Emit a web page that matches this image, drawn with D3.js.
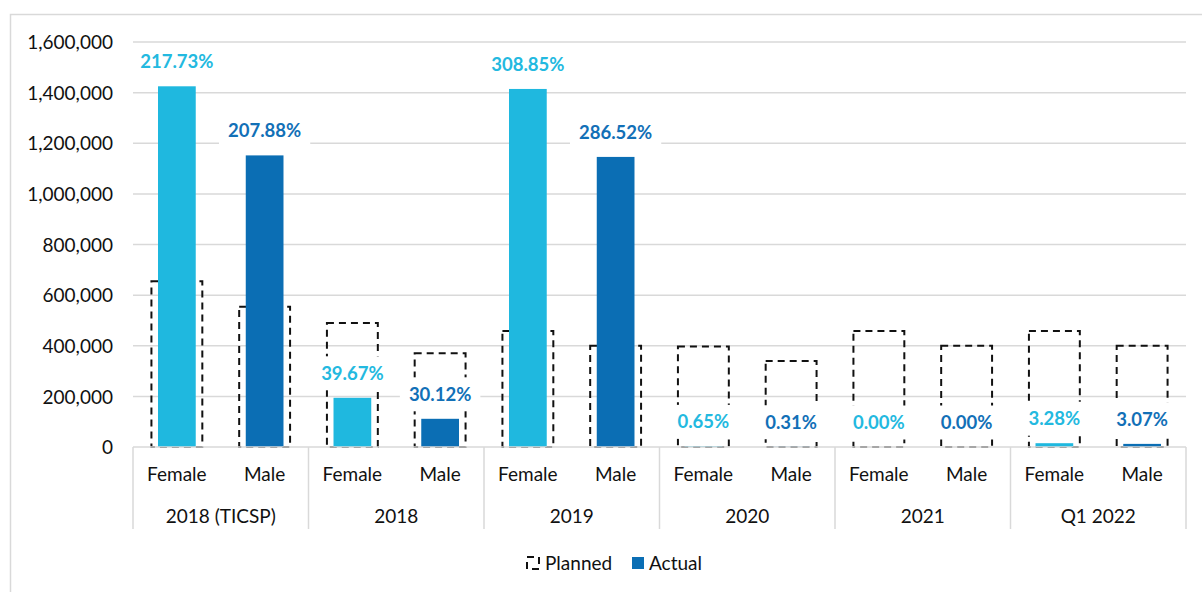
<!DOCTYPE html>
<html>
<head>
<meta charset="utf-8">
<script src="https://cdn.jsdelivr.net/npm/d3@7"></script>
<style>
  html, body { margin: 0; padding: 0; background: #fff; }
  svg { display: block; font-family: Lato, "Open Sans", sans-serif; }
</style>
</head>
<body>
<svg id="chart" width="1202" height="592"></svg>
<script>
const groups = ["2018 (TICSP)", "2018", "2019", "2020", "2021", "Q1 2022"];
const genders = ["Female", "Male"];
const plannedFemale = [654500, 490000, 458000, 397000, 458000, 458000];
const plannedMale   = [554200, 370000, 400000, 340000, 400000, 400000];
const actualFemale  = [1425000, 194400, 1414500, 2580, 0, 15000];
const actualMale    = [1152000, 111400, 1146000, 1050, 0, 12300];
const pctFemale = ["217.73%", "39.67%", "308.85%", "0.65%", "0.00%", "3.28%"];
const pctMale   = ["207.88%", "30.12%", "286.52%", "0.31%", "0.00%", "3.07%"];
const yTicks = [0, 200000, 400000, 600000, 800000, 1000000, 1200000, 1400000, 1600000];

const colors = { Female: "#1FB8DF", Male: "#0B6EB4" };
const labelColors = { Female: "#23B9E0", Male: "#1270B7" };

const rows = [];
groups.forEach((g, i) => {
  rows.push({ group: g, gender: "Female", key: g + "|Female", planned: plannedFemale[i], actual: actualFemale[i], pct: pctFemale[i] });
  rows.push({ group: g, gender: "Male", key: g + "|Male", planned: plannedMale[i], actual: actualMale[i], pct: pctMale[i] });
});

const svg = d3.select("#chart");
const plotLeft = 133, plotRight = 1186, plotTop = 42, plotBottom = 447;

// outer border
svg.append("rect").attr("x", 10.5).attr("y", 14.5).attr("width", 1200).attr("height", 600)
  .attr("fill", "none").attr("stroke", "#d9d9d9").attr("stroke-width", 1.5);

const x = d3.scaleBand().domain(rows.map(d => d.key)).range([plotLeft, plotRight]).paddingInner(0).paddingOuter(0);
const xg = d3.scaleBand().domain(groups).range([plotLeft, plotRight]);
const y = d3.scaleLinear().domain([0, 1600000]).range([plotBottom, plotTop]);

// gridlines
svg.append("g").selectAll("line").data(yTicks.filter(t => t > 0)).join("line")
  .attr("x1", plotLeft).attr("x2", plotRight)
  .attr("y1", d => y(d)).attr("y2", d => y(d))
  .attr("stroke", "#d9d9d9").attr("stroke-width", 1.5);

// y axis labels
const yAxis = d3.axisLeft(y).tickValues(yTicks).tickFormat(d3.format(",")).tickSize(0).tickPadding(0);
const ya = svg.append("g").attr("transform", `translate(${113},0)`).call(yAxis);
ya.select(".domain").remove();
ya.selectAll("text").attr("font-size", 19).attr("fill", "#111").attr("font-family", "Lato, sans-serif").attr("dy", "0.35em");

const pw = x.bandwidth() * 0.58, aw = x.bandwidth() * 0.43;

// planned (dashed outline)
svg.append("g").selectAll("rect").data(rows).join("rect")
  .attr("x", d => x(d.key) + (x.bandwidth() - pw) / 2)
  .attr("width", pw)
  .attr("y", d => y(d.planned))
  .attr("height", d => y(0) - y(d.planned))
  .attr("fill", "none").attr("stroke", "#111").attr("stroke-width", 2)
  .attr("stroke-dasharray", "7,5");

// actual bars
svg.append("g").selectAll("rect").data(rows.filter(d => d.actual > 0)).join("rect")
  .attr("x", d => x(d.key) + (x.bandwidth() - aw) / 2)
  .attr("width", aw)
  .attr("y", d => y(d.actual))
  .attr("height", d => Math.max(y(0) - y(d.actual), 0))
  .attr("fill", d => colors[d.gender]);

// baseline axis + category separators
const axisColor = "#d9d9d9";
svg.append("line").attr("x1", plotLeft).attr("x2", plotRight).attr("y1", plotBottom).attr("y2", plotBottom)
  .attr("stroke", axisColor).attr("stroke-width", 1.5);
const seps = groups.map(g => xg(g)).concat([plotRight]);
svg.append("g").selectAll("line").data(seps).join("line")
  .attr("x1", d => d).attr("x2", d => d).attr("y1", plotBottom).attr("y2", 529)
  .attr("stroke", axisColor).attr("stroke-width", 1.5);

// gender labels
svg.append("g").selectAll("text").data(rows).join("text")
  .attr("x", d => x(d.key) + x.bandwidth() / 2)
  .attr("y", 474).attr("dy", "0.35em")
  .attr("text-anchor", "middle").attr("font-size", 19).attr("fill", "#111")
  .text(d => d.gender);

// group labels
svg.append("g").selectAll("text").data(groups).join("text")
  .attr("x", d => xg(d) + xg.bandwidth() / 2)
  .attr("y", 516).attr("dy", "0.35em")
  .attr("text-anchor", "middle").attr("font-size", 19).attr("fill", "#111")
  .text(d => d);

// percentage labels with white background
const lg = svg.append("g").selectAll("g").data(rows).join("g")
  .attr("transform", d => `translate(${x(d.key) + x.bandwidth() / 2},${y(d.actual) - 24.5})`);
lg.append("text")
  .attr("text-anchor", "middle").attr("dy", "0.35em")
  .attr("font-size", 18.5).attr("font-weight", 700)
  .attr("fill", d => labelColors[d.gender])
  .text(d => d.pct);
lg.each(function() {
  const g = d3.select(this);
  const bb = g.select("text").node().getBBox();
  g.insert("rect", "text")
    .attr("x", bb.x - 9).attr("y", -17).attr("width", bb.width + 18).attr("height", 34)
    .attr("fill", "#fff");
});

// legend
const leg = svg.append("g");
leg.append("rect").attr("x", 527).attr("y", 557).attr("width", 12).attr("height", 12)
  .attr("fill", "none").attr("stroke", "#111").attr("stroke-width", 2).attr("stroke-dasharray", "7,5");
leg.append("text").attr("x", 545).attr("y", 563).attr("dy", "0.35em").attr("font-size", 19).attr("fill", "#111").text("Planned");
leg.append("rect").attr("x", 632).attr("y", 557).attr("width", 12).attr("height", 12).attr("fill", colors.Male);
leg.append("text").attr("x", 649).attr("y", 563).attr("dy", "0.35em").attr("font-size", 19).attr("fill", "#111").text("Actual");
</script>
</body>
</html>
